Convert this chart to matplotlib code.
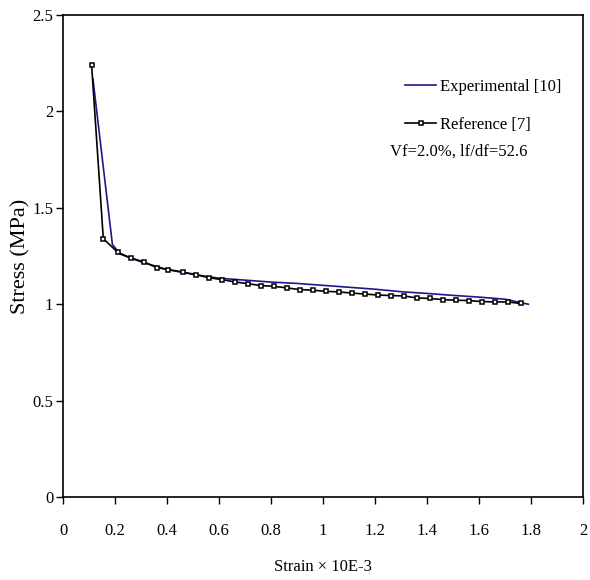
import matplotlib
matplotlib.use("Agg")
import matplotlib.pyplot as plt

# Reference [7] (black, square markers)
ref_strain = [0.11, 0.155, 0.21, 0.26, 0.31, 0.36, 0.405, 0.46, 0.51, 0.56, 0.61,
              0.66, 0.71, 0.76, 0.81, 0.86, 0.91, 0.96, 1.01, 1.06, 1.11, 1.16,
              1.21, 1.26, 1.31, 1.36, 1.41, 1.46, 1.51, 1.56, 1.61, 1.66, 1.71, 1.76]
ref_stress = [2.24, 1.34, 1.27, 1.24, 1.22, 1.19, 1.18, 1.167, 1.154, 1.138, 1.128,
              1.116, 1.107, 1.097, 1.093, 1.085, 1.076, 1.073, 1.067, 1.064, 1.058, 1.053,
              1.048, 1.045, 1.043, 1.033, 1.03, 1.024, 1.021, 1.019, 1.014, 1.012, 1.012, 1.004]

# Experimental [10] (blue line)
exp_strain = [0.115, 0.19, 0.22, 0.3, 0.4, 0.5, 0.6, 0.7, 0.8, 0.9, 1.0,
              1.1, 1.2, 1.3, 1.4, 1.5, 1.6, 1.7, 1.79]
exp_stress = [2.17, 1.31, 1.26, 1.22, 1.18, 1.155, 1.135, 1.125, 1.115, 1.108, 1.098,
              1.088, 1.078, 1.065, 1.056, 1.046, 1.037, 1.026, 1.0]

x_ticks = [0, 0.2, 0.4, 0.6, 0.8, 1, 1.2, 1.4, 1.6, 1.8, 2]
x_tick_labels = ["0", "0.2", "0.4", "0.6", "0.8", "1", "1.2", "1.4", "1.6", "1.8", "2"]
y_ticks = [0, 0.5, 1, 1.5, 2, 2.5]
y_tick_labels = ["0", "0.5", "1", "1.5", "2", "2.5"]

plt.rcParams["font.family"] = ["Liberation Serif", "DejaVu Serif"]

fig = plt.figure(figsize=(5.9, 5.8), dpi=100)
ax = fig.add_axes([0.1068, 0.1431, 0.8812, 0.8309])

ax.plot(exp_strain, exp_stress, color="#1a1a8c", lw=1.2, label="Experimental [10]")
ax.plot(ref_strain, ref_stress, color="black", lw=1.2, marker="s", ms=3.5,
        mfc="white", mec="black", mew=1.1, label="Reference [7]")

ax.set_xlim(0, 2)
ax.set_ylim(0, 2.5)
ax.set_xticks(x_ticks)
ax.set_xticklabels(x_tick_labels)
ax.set_yticks(y_ticks)
ax.set_yticklabels(y_tick_labels)
ax.tick_params(axis="x", direction="out", length=5, width=1, pad=14, labelsize=12)
ax.tick_params(axis="y", direction="out", length=5, width=1, pad=2, labelsize=12)
for s in ax.spines.values():
    s.set_linewidth(1.2)

ax.set_xlabel("Strain × 10E-3", fontsize=12, labelpad=14)
ax.set_ylabel("Stress (MPa)", fontsize=16, labelpad=1)

ax.legend(loc="upper left", bbox_to_anchor=(0.658, 0.868), frameon=False,
          borderpad=0, borderaxespad=0, fontsize=12, handlelength=1.85,
          handletextpad=0.25, labelspacing=1.35)
ax.text(0.629, 0.716, "Vf=2.0%, lf/df=52.6", transform=ax.transAxes, fontsize=12,
        va="center", ha="left")

fig.savefig("out.png", dpi=100)
